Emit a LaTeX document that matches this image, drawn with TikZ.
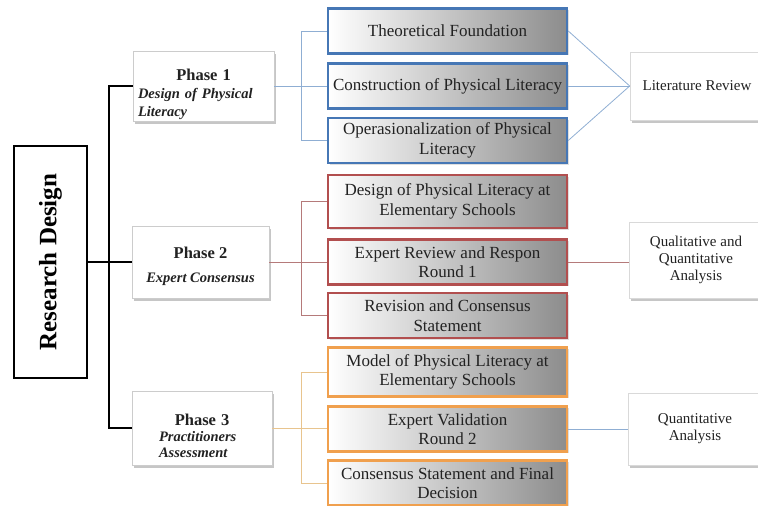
\documentclass[tikz,border=0pt]{standalone}
\usepackage{fontspec}
\setmainfont{Liberation Serif}
\usetikzlibrary{shadows}
\definecolor{pblue}{HTML}{4677B5}
\definecolor{pred}{HTML}{B24F4F}
\definecolor{porange}{HTML}{F0A04E}
\definecolor{lblue}{HTML}{8FAED3}
\definecolor{lred}{HTML}{B57A7A}
\definecolor{lorange}{HTML}{E8C48E}
\definecolor{txt}{HTML}{222222}
\newcommand{\phtitle}[1]{{\fontsize{16.5}{18}\selectfont\bfseries #1}}
\newcommand{\phsub}[1]{{\fontsize{14.5}{18}\selectfont\bfseries\itshape #1}}
\begin{document}
\begin{tikzpicture}[x=1pt,y=-1pt,
  subbox/.style={draw=#1, line width=2.5pt, left color=white, right color=black!45,
    minimum width=239pt, minimum height=45pt, align=center, text=txt,
    font=\fontsize{17}{19.5}\selectfont, inner sep=1pt,
    drop shadow={shadow xshift=1.5pt, shadow yshift=-1.5pt, opacity=0.25}},
  phasebox/.style={draw=black!20, line width=0.6pt, fill=white,
    drop shadow={shadow xshift=2pt, shadow yshift=-3pt, opacity=0.45},
    inner sep=0pt},
  phasetext/.style={inner sep=0pt, text=txt, align=left},
  resbox/.style={draw=black!15, line width=0.6pt, fill=white,
    drop shadow={shadow xshift=2pt, shadow yshift=-3pt, opacity=0.45},
    minimum width=134pt, align=center, text=txt,
    font=\fontsize{15}{17}\selectfont},
  spine/.style={line width=2.5pt, black},
  thin/.style={line width=0.8pt, #1}
]
\useasboundingbox (0,0) rectangle (758,506);

% Research design box
\node[draw, line width=2.6pt, minimum width=73pt, minimum height=232pt, inner sep=0pt]
  (rd) at (50.5,262) {\rotatebox{90}{\fontsize{25}{27}\selectfont\bfseries Research Design}};

% Phase boxes
\node[phasebox, minimum width=141pt, minimum height=70pt] (p1) at (203.5,86) {};
\node[phasetext, text width=131pt, font=\fontsize{15}{18}\selectfont] (p1t) at (203.5,94)
  {\makebox[131pt]{\phtitle{Phase 1}}\\ \phsub{Design of Physical}\\ \phsub{Literacy}};
\node[phasebox, minimum width=137pt, minimum height=72pt] (p2) at (200.5,262) {};
\node[phasetext, align=center, font=\fontsize{15}{18}\selectfont] (p2t) at (200.5,266)
  {\phtitle{Phase 2}\\[6pt] \phsub{Expert Consensus}};
\node[phasebox, minimum width=140pt, minimum height=74pt] (p3) at (202,428) {};
\node[phasetext, text width=130pt, font=\fontsize{15}{16}\selectfont] (p3t) at (202,436)
  {\makebox[130pt]{\phtitle{Phase 3}}\\
   \hspace*{22pt}{\fontsize{14.5}{16}\selectfont\bfseries\itshape Practitioners}\\
   \hspace*{22pt}{\fontsize{14.5}{16}\selectfont\bfseries\itshape Assessment}};

% Spine
\coordinate (s1) at (109,86);
\coordinate (s3) at (109,428);
\draw[spine] (p1.west) -- (s1) -- (s3) -- (p3.west);
\draw[spine] (rd.east) -- (p2.west);

% Phase 1 children
\node[subbox=pblue] (c1) at (447.5,31) {Theoretical Foundation};
\node[subbox=pblue] (c2) at (447.5,86) {Construction of Physical Literacy};
\node[subbox=pblue] (c3) at (447.5,140.5) {Operasionalization of Physical\\Literacy};
% Phase 2 children
\node[subbox=pred, minimum height=53pt] (c4) at (447.5,201.5) {Design of Physical Literacy at\\Elementary Schools};
\node[subbox=pred] (c5) at (447.5,262) {Expert Review and Respon\\Round 1};
\node[subbox=pred] (c6) at (447.5,315.5) {Revision and Consensus\\Statement};
% Phase 3 children
\node[subbox=porange, minimum height=49pt] (c7) at (447.5,372) {Model of Physical Literacy at\\Elementary Schools};
\node[subbox=porange] (c8) at (447.5,429) {Expert Validation\\Round 2};
\node[subbox=porange] (c9) at (447.5,483) {Consensus Statement and Final\\Decision};

% Result boxes
\node[resbox, minimum height=68pt] (lr) at (697,86) {Literature Review};
\node[resbox, minimum height=76pt] (qa) at (696,260) {Qualitative and\\Quantitative\\Analysis};
\node[resbox, minimum height=72pt] (qn) at (695,429) {Quantitative\\Analysis};

% Brackets
\draw[thin=lblue] (c1.west) -- ++(-25,0) |- (c3.west);
\draw[thin=lblue] (p1.east) -- (c2.west);
\draw[thin=lred] (c4.west) -- ++(-25,0) |- (c6.west);
\draw[thin=lred] (p2.east) -- (c5.west);
\draw[thin=lorange] (c7.west) -- ++(-25,0) |- (c9.west);
\draw[thin=lorange] (p3.east) -- (p3.east -| c8.west);

% Right connectors
\draw[thin=lblue] (c1.east) -- (lr.west);
\draw[thin=lblue] (c2.east) -- (lr.west);
\draw[thin=lblue] (c3.east) -- (lr.west);
\draw[thin=lred] (c5.east) -- (c5.east -| qa.west);
\draw[thin=lblue] (c8.east) -- (qn.west);
\end{tikzpicture}
\end{document}
